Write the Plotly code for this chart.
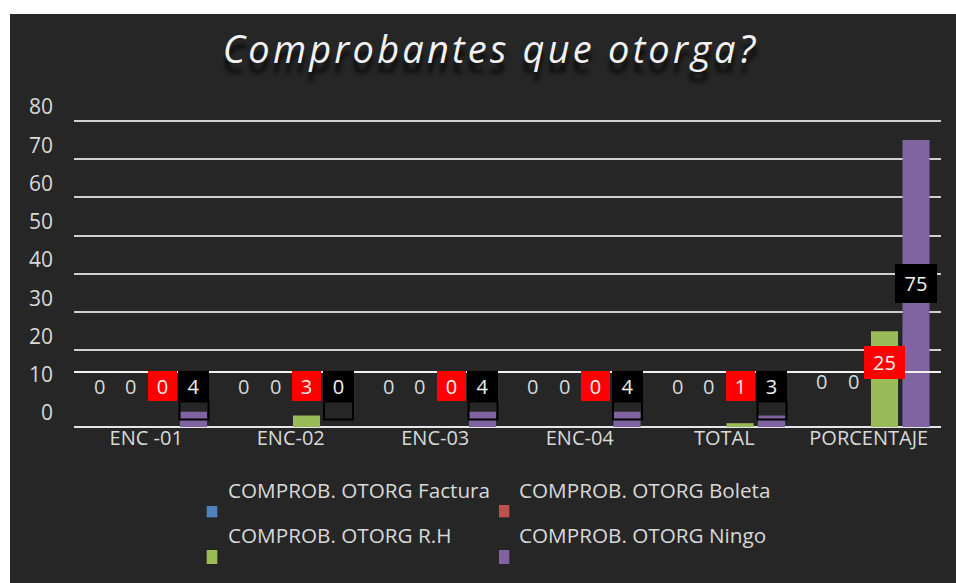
import plotly.graph_objects as go

# ---------------- data ----------------
categories = ["ENC -01", "ENC-02", "ENC-03", "ENC-04", "TOTAL", "PORCENTAJE"]
factura = [0, 0, 0, 0, 0, 0]
boleta = [0, 0, 0, 0, 0, 0]
rh = [0, 3, 0, 0, 1, 25]
ningo = [4, 0, 4, 4, 3, 75]
series_names = ["COMPROB. OTORG Factura", "COMPROB. OTORG Boleta",
                "COMPROB. OTORG R.H", "COMPROB. OTORG Ningo"]
y_tick_vals = [0, 10, 20, 30, 40, 50, 60, 70, 80]
grid_vals = [20, 30, 40, 50, 60, 70, 80]
title_text = "Comprobantes que otorga?"

# ---------------- style ----------------
W, H = 956, 583
ML, MR, MT, MB = 74, 15, 119, 156
Y_RANGE = [0, 80.5]
BARGAP, GROUPGAP = 0.128, 0.14
colors = ["#4F81BD", "#C0504D", "#9BBB59", "#8064A2"]
BG = "#262626"
TXT = "#D9D9D9"
FONT = "Open Sans"
label_level = 10.6        # height where most data labels sit
label_level_pct = [11.9, 11.9, 16.8, None]  # PORCENTAJE label levels (None = mid bar)
odd_line_level = 14.4

series = [factura, boleta, rh, ningo]


def slot_x(ci, si):
    return ci + (si - 1.5) * (1 - BARGAP) / 4


def px_x(px):
    return (px - ML) / (W - ML - MR)


def px_y(py):
    return (H - MB - py) / (H - MT - MB)


fig = go.Figure()
for name, vals, col in zip(series_names, series, colors):
    fig.add_trace(go.Bar(x=categories, y=vals, name=name, marker_color=col,
                         marker_line_width=0, showlegend=False))

annotations = []
shapes = []

# dark background panel with a white margin on top/left
shapes.append(dict(type="rect", xref="paper", yref="paper", layer="below",
                   x0=px_x(10), x1=px_x(W + 5), y0=px_y(H + 5), y1=px_y(14),
                   fillcolor=BG, line_width=0))

# odd bright line
shapes.append(dict(type="line", xref="paper", yref="y", layer="above",
                   x0=0, x1=1, y0=odd_line_level, y1=odd_line_level,
                   line=dict(color="#F2F2F2", width=2)))

# data labels
for ci, cat in enumerate(categories):
    is_pct = ci == len(categories) - 1
    for si in range(4):
        v = series[si][ci]
        if is_pct:
            ly = label_level_pct[si] if label_level_pct[si] is not None else v / 2
        else:
            ly = label_level
        txt = str(v)
        base = dict(x=slot_x(ci, si), y=ly, xref="x", yref="y", text=txt,
                    showarrow=False, xanchor="center", yanchor="middle",
                    font=dict(family=FONT, size=20, color=TXT))
        if si == 2:
            base.update(bgcolor="#FF0000", width=29 if len(txt) == 1 else 41,
                        height=30 if len(txt) == 1 else 33, borderpad=0,
                        borderwidth=0, font=dict(family=FONT, size=20, color="#F2F2F2"))
        elif si == 3:
            base.update(bgcolor="#000000", width=31 if len(txt) == 1 else 42,
                        height=30 if len(txt) == 1 else 39, borderpad=0,
                        borderwidth=0, font=dict(family=FONT, size=20, color="#F2F2F2"))
            if not is_pct:
                shapes.append(dict(type="rect", xref="x", yref="y",
                                   xsizemode="pixel", ysizemode="pixel",
                                   xanchor=slot_x(ci, si), yanchor=ly,
                                   x0=-14, x1=15, y0=-33, y1=-15,
                                   line=dict(color="#000000", width=2),
                                   fillcolor="rgba(0,0,0,0)", layer="above"))
        annotations.append(base)

# custom legend (swatch below-left of each text)
leg_text_pos = [(226.7, 490), (518.3, 490), (226.7, 534.5), (518.3, 534.5)]
leg_swatch = [(206.7, 217.3, 506, 517.3), (499, 509.3, 505, 517.3),
              (206.7, 217.3, 550, 564), (499, 509.3, 550, 564)]
for name, col, (tx, ty), (sx0, sx1, sy0, sy1) in zip(series_names, colors,
                                                     leg_text_pos, leg_swatch):
    annotations.append(dict(x=px_x(tx), y=px_y(ty), xref="paper", yref="paper",
                            text=name, showarrow=False, xanchor="left",
                            yanchor="middle", borderpad=0,
                            font=dict(family=FONT, size=20.7, color=TXT)))
    shapes.append(dict(type="rect", xref="paper", yref="paper",
                       x0=px_x(sx0), x1=px_x(sx1), y0=px_y(sy1), y1=px_y(sy0),
                       fillcolor=col, line_width=0))

fig.update_layout(
    width=W, height=H,
    margin=dict(l=ML, r=MR, t=MT, b=MB),
    paper_bgcolor="white",
    plot_bgcolor="rgba(0,0,0,0)",
    barmode="group", bargap=BARGAP, bargroupgap=GROUPGAP,
    title=dict(text=title_text, x=490.5 / W, xref="container", xanchor="center",
               y=1 - 50 / H, yref="container", yanchor="middle",
               font=dict(family=FONT, size=38, color="#F2F2F2", style="italic",
                         shadow="0px 10px 4px rgba(0,0,0,0.85)")),
    xaxis=dict(type="category", showgrid=False, zeroline=False, showline=False,
               ticks="", ticklabelstandoff=-3,
               tickfont=dict(family=FONT, size=20, color=TXT)),
    yaxis=dict(range=Y_RANGE, tickvals=y_tick_vals, showgrid=False,
               zeroline=True, zerolinecolor="#E6E6E6", zerolinewidth=2,
               showline=False, ticks="", ticklabelshift=-14, ticklabelstandoff=20,
               tickfont=dict(family=FONT, size=21, color=TXT)),
    yaxis2=dict(range=Y_RANGE, overlaying="y", tickvals=grid_vals,
                showgrid=True, gridcolor="#D0D0D0", gridwidth=1.5,
                showticklabels=False, zeroline=False, ticks=""),
    annotations=annotations,
    shapes=shapes,
)
# attach an invisible trace to yaxis2 so its grid is drawn
fig.add_trace(go.Scatter(x=[categories[0]], y=[0], yaxis="y2", mode="markers",
                         marker=dict(opacity=0), showlegend=False, hoverinfo="skip"))

post = (
    "document.body.style.margin='0';"
    "var s=document.createElement('style');"
    "s.textContent='.gtitle{letter-spacing:3.2px;}';"
    "document.head.appendChild(s);"
)
fig.write_html("out.html", post_script=post, config={"displayModeBar": False})
